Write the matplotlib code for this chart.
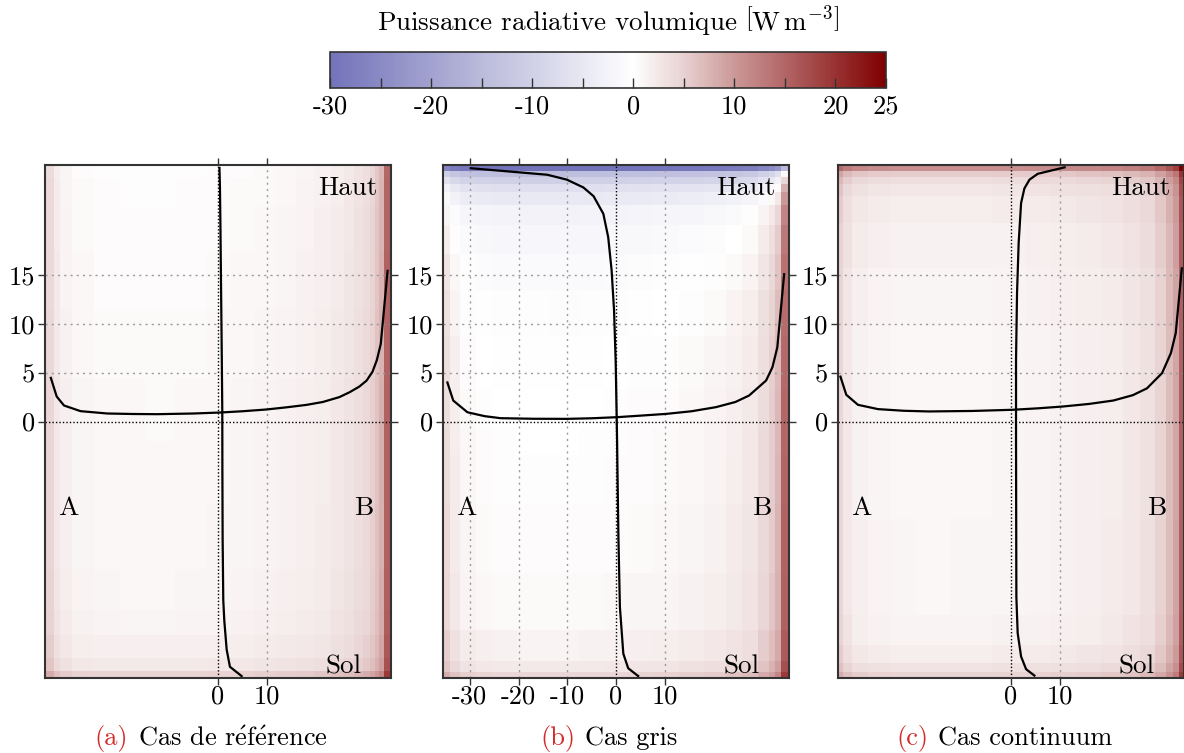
import numpy as np
import matplotlib
matplotlib.use('Agg')
import matplotlib.pyplot as plt
from matplotlib.colors import LinearSegmentedColormap, Normalize
from matplotlib.colorbar import ColorbarBase
from matplotlib.offsetbox import TextArea, HPacker, AnchoredOffsetbox

plt.rcParams['font.family'] = ['cmr10', 'DejaVu Serif']
plt.rcParams['mathtext.fontset'] = 'cm'
plt.rcParams['axes.unicode_minus'] = False
plt.rcParams['axes.formatter.use_mathtext'] = True

# profils horizontaux (position A->B, puissance)
xa_h = [-34.3, -33.1, -31.6, -28.2, -22.7, -17.5, -12.5, -5.0, 0.4, 5.0, 9.9, 14.0, 18.1, 21.5, 24.9, 27.0, 29.0, 30.5, 31.7, 32.6, 33.4, 34.8]
pa_h = [4.47, 2.56, 1.64, 1.06, 0.82, 0.77, 0.75, 0.82, 0.92, 1.05, 1.23, 1.45, 1.7, 2.0, 2.5, 3.0, 3.58, 4.2, 5.1, 6.3, 7.95, 15.45]
xb_h = [-34.6, -33.4, -30.5, -27.0, -23.7, -17.0, -10.1, -5.0, 0.1, 5.0, 10.3, 15.5, 20.5, 24.5, 27.3, 30.8, 32.1, 33.1, 34.5]
pb_h = [4.0, 2.15, 0.95, 0.55, 0.34, 0.28, 0.27, 0.33, 0.44, 0.6, 0.78, 1.05, 1.47, 2.0, 2.66, 4.2, 5.56, 7.6, 15.1]
xc_h = [-35.0, -33.8, -31.4, -27.3, -22.0, -16.9, -8.0, 0.3, 5.5, 10.7, 16.0, 21.0, 25.0, 27.9, 31.0, 32.8, 33.8, 35.05]
pc_h = [4.6, 2.74, 1.71, 1.27, 1.1, 1.03, 1.08, 1.2, 1.35, 1.54, 1.8, 2.15, 2.7, 3.4, 4.96, 7.0, 9.05, 15.7]

# profils verticaux (hauteur Sol->Haut, puissance)
ya_v = [-26.1, -25.15, -23.4, -20.4, -18.3, -12.0, -5.0, 1.0, 8.0, 15.0, 20.0, 24.0, 26.0]
pa_v = [4.84, 2.45, 1.78, 1.29, 1.08, 0.95, 0.9, 0.88, 0.75, 0.6, 0.5, 0.4, 0.3]
yb_v = [-26.1, -25.3, -23.8, -19.0, -12.0, -5.0, -1.9, 0.45, 6.2, 11.4, 15.5, 18.9, 21.3, 23.1, 24.0, 24.8, 25.3, 25.97]
pb_v = [4.55, 2.5, 1.5, 0.8, 0.5, 0.3, 0.22, 0.14, -0.07, -0.4, -0.9, -1.6, -2.6, -4.6, -6.7, -10.1, -14.1, -29.8]
yc_v = [-26.05, -25.4, -24.1, -21.7, -18.0, -1.9, 6.3, 13.2, 18.3, 22.4, 23.9, 24.8, 25.4, 26.06]
pc_v = [4.8, 3.1, 2.07, 1.37, 1.1, 1.03, 1.03, 1.24, 1.57, 2.07, 2.75, 3.8, 5.5, 11.0]

captions = [('(a)', r'Cas de r$\mathrm{\acute{e}}$f$\mathrm{\acute{e}}$rence'),
            ('(b)', 'Cas gris'), ('(c)', 'Cas continuum')]
xticks_list = [[0, 10], [-30, -20, -10, 0, 10], [0, 10]]
yticks = [0, 5, 10, 15]

cmap = LinearSegmentedColormap.from_list('puissance', [
    (0.0, (0.45, 0.45, 0.73)),
    (15 / 55, (0.73, 0.73, 0.86)),
    (30 / 55, (1.0, 1.0, 1.0)),
    (35 / 55, (0.91, 0.82, 0.82)),
    (40 / 55, (0.80, 0.60, 0.60)),
    (45 / 55, (0.70, 0.40, 0.40)),
    (50 / 55, (0.60, 0.20, 0.20)),
    (1.0, (0.50, 0.0, 0.0)),
])
norm = Normalize(vmin=-30, vmax=25)

XLIM = (-35.5, 35.5)
YLIM = (-26.3, 26.3)

fig = plt.figure(figsize=(11.84, 7.53), dpi=100)
lefts = [45 / 1184, 443 / 1184, 838 / 1184]
w = 346 / 1184
bottom = 1 - 678 / 753
h = 513 / 753

data = [(xa_h, pa_h, ya_v, pa_v), (xb_h, pb_h, yb_v, pb_v), (xc_h, pc_h, yc_v, pc_v)]

for k, (xh, ph, yv, pv) in enumerate(data):
    ax = fig.add_axes([lefts[k], bottom, w, h])
    xh = np.array(xh); ph = np.array(ph)
    yv = np.array(yv); pv = np.array(pv)
    # champ approche a partir des deux profils
    ref = np.interp(0.0, xh, ph)
    field = ph[None, :] + pv[:, None] - ref
    xe = np.concatenate([[XLIM[0]], (xh[1:] + xh[:-1]) / 2, [XLIM[1]]])
    ye = np.concatenate([[YLIM[0]], (yv[1:] + yv[:-1]) / 2, [YLIM[1]]])
    ax.pcolormesh(xe, ye, field, cmap=cmap, norm=norm, shading='flat', zorder=0)

    for t in xticks_list[k]:
        if t != 0:
            ax.axvline(t, color='#999999', ls=(0, (1.5, 3)), lw=1.0, zorder=1)
    for t in yticks:
        if t != 0:
            ax.axhline(t, color='#999999', ls=(0, (1.5, 3)), lw=1.0, zorder=1)
    ax.axvline(0, color='black', ls=(0, (1, 1.5)), lw=1.0, zorder=1)
    ax.axhline(0, color='black', ls=(0, (1, 1.5)), lw=1.0, zorder=1)

    ax.plot(xh, ph, color='black', lw=1.6, zorder=3)
    ax.plot(pv, yv, color='black', lw=1.6, zorder=3)

    ax.set_xlim(XLIM)
    ax.set_ylim(YLIM)
    ax.set_xticks(xticks_list[k])
    ax.set_xticklabels([str(t) for t in xticks_list[k]])
    ax.set_yticks(yticks)
    ax.set_yticklabels([str(t) for t in yticks])
    ax.tick_params(direction='out', length=5, width=1, labelsize=19, colors='#333333',
                   labelcolor='black', top=True, right=True, pad=2)
    ax.tick_params(axis='x', pad=0)
    for s in ax.spines.values():
        s.set_color('#333333')
        s.set_linewidth(1.5)

    ax.text(0.962, 0.955, 'Haut', transform=ax.transAxes, ha='right', va='center', fontsize=19.5)
    ax.text(0.914, 0.022, 'Sol', transform=ax.transAxes, ha='right', va='center', fontsize=19.5)
    ax.text(0.066, 0.331, 'A', transform=ax.transAxes, ha='center', va='center', fontsize=19.5)
    ax.text(0.922, 0.331, 'B', transform=ax.transAxes, ha='center', va='center', fontsize=19.5)

    lab, txt = captions[k]
    box = HPacker(children=[TextArea(lab, textprops=dict(color='#d42a2a', size=19)),
                            TextArea(txt, textprops=dict(color='black', size=19))],
                  align='baseline', pad=0, sep=7)
    ab = AnchoredOffsetbox(loc='center', child=box, pad=0, borderpad=0, frameon=False,
                           bbox_to_anchor=(0.48, -0.118), bbox_transform=ax.transAxes)
    ax.add_artist(ab)

cax = fig.add_axes([330 / 1184, 1 - 88 / 753, 556 / 1184, 36 / 753])
cb = ColorbarBase(cax, cmap=cmap, norm=norm, orientation='horizontal')
cb.outline.set_edgecolor('#333333')
cb.outline.set_linewidth(1.2)
cbticks = list(range(-30, 26, 5))
cb.set_ticks(cbticks)
cb.set_ticklabels([str(t) if (t % 10 == 0 or t == 25) else '' for t in cbticks])
cax.tick_params(direction='in', length=7, width=1, labelsize=19, color='#333333', pad=5)
cax.xaxis.set_label_position('top')
cax.set_xlabel(r'Puissance radiative volumique $\left[\mathrm{W\,m^{-3}}\right]$', fontsize=19.5, labelpad=15)

fig.savefig('out.png', dpi=100)
